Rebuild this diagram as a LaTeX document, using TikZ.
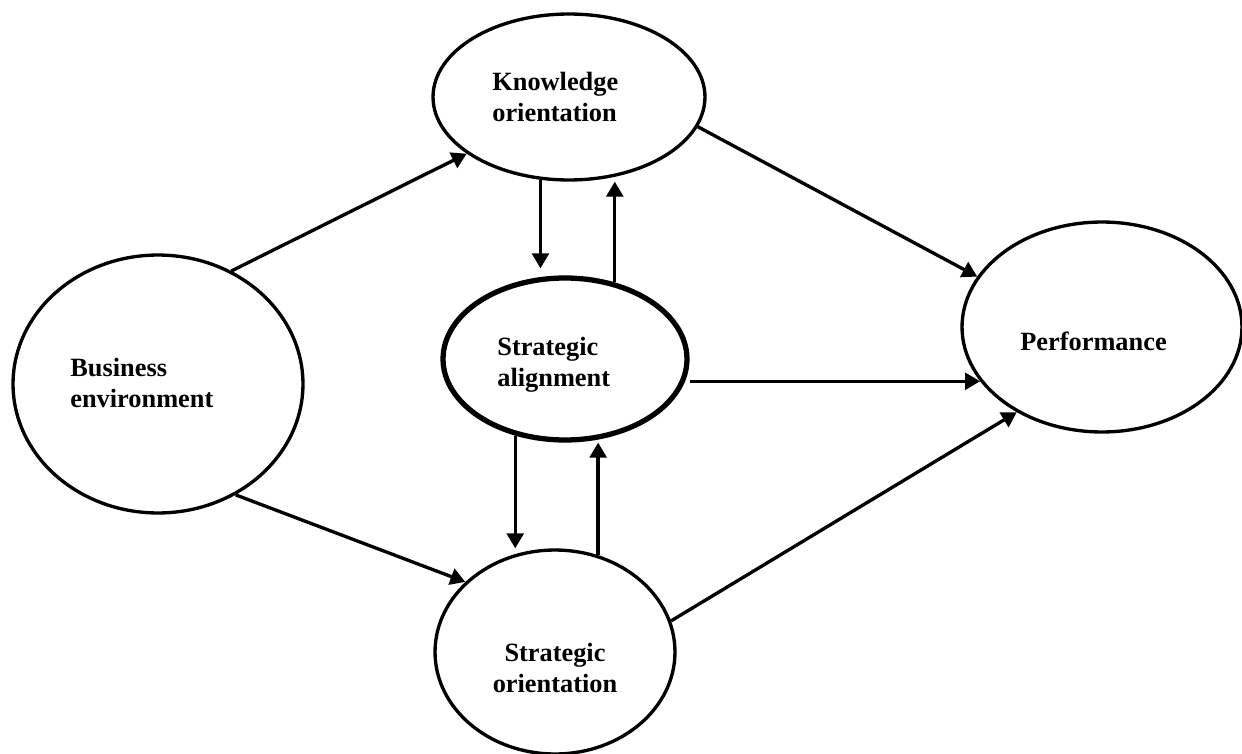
\documentclass[tikz,border=0pt]{standalone}
\usepackage{fontspec}
\setmainfont{Liberation Serif}
\usetikzlibrary{shapes, arrows.meta}
\tikzstyle{o}   = [draw, ellipse, line width=1.9pt, inner sep=0pt]
\tikzstyle{oo}  = [o, line width=3pt]
\tikzstyle{txt} = [inner sep=0pt, font=\fontsize{15}{17.5}\selectfont\bfseries]
\tikzstyle{arr} = [draw, line width=1.9pt, -{Triangle[length=8.5pt, width=9.5pt]}]

\begin{document}
\begin{tikzpicture}[x=0.02cm, y=-0.02cm]
\useasboundingbox (0,0) rectangle (1242,754);

% nodes
\node [o, minimum width=5.8cm,  minimum height=5.16cm] at ( 158, 384) (bus)    {};
\node [o, minimum width=5.44cm, minimum height=3.32cm] at ( 569,  97) (know)   {};
\node [oo,minimum width=4.88cm, minimum height=3.24cm] at ( 565, 359) (align)  {};
\node [o, minimum width=4.8cm,  minimum height=4.08cm] at ( 555, 652) (orient) {};
\node [o, minimum width=5.6cm,  minimum height=4.2cm]  at (1102, 327) (perf)   {};

% labels
\node [txt, align=left,   anchor=north west] at (  70, 358) (bus-t)    {Business\\environment};
\node [txt, align=left,   anchor=north west] at ( 492,  72) (know-t)   {Knowledge\\orientation};
\node [txt, align=left,   anchor=north west] at ( 497, 337) (align-t)  {Strategic\\alignment};
\node [txt, align=center, anchor=north]      at ( 555, 643) (orient-t) {Strategic\\orientation};
\node [txt, anchor=north west]               at (1020, 332) (perf-t)   {Performance};

% edges
\draw [arr] (bus.57)    -- (know.209);
\draw [arr] (bus.305)   -- (orient.142);
\draw [arr] (know.347)  -- (perf.158);
\draw [arr, shorten >=4pt] (know.251) -- (know.251 |- align.north);
\draw [arr] (align.57)  -- (align.57 |- know.south);
\draw [arr] (align.237) -- (align.237 |- orient.north);
\draw [arr] (orient.66) -- (orient.66 |- align.south);
\draw [arr] (perf.204 -| align.east) -- (perf.204);
\draw [arr] (orient.15) -- (perf.225);

\end{tikzpicture}
\end{document}
